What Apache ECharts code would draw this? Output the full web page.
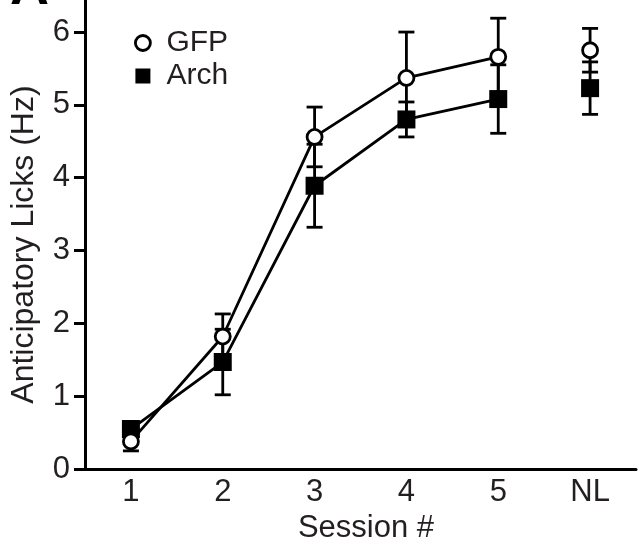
<!DOCTYPE html>
<html>
<head>
<meta charset="utf-8">
<script src="https://cdn.jsdelivr.net/npm/echarts@6/dist/echarts.min.js"></script>
<style>
  html, body { margin: 0; padding: 0; background: #fff; }
  #main { width: 639px; height: 549px; }
</style>
</head>
<body>
<div id="main"></div>
<script>
// session categories on the x axis
const sessions = ['1', '2', '3', '4', '5', 'NL'];
const yTicks = [0, 1, 2, 3, 4, 5, 6];

// mean anticipatory lick rate (Hz) and error (SEM)
const gfpMean = [0.38, 1.82, 4.56, 5.37, 5.66, 5.75];
const gfpErr = [0.13, 0.31, 0.41, 0.63, 0.53, 0.30];
const archMean = [0.55, 1.47, 3.89, 4.80, 5.08, 5.23];
const archErr = [0.10, 0.45, 0.57, 0.24, 0.47, 0.36];

const FONT = 'Liberation Sans, Arial, Helvetica, sans-serif';
const TEXT = '#231f20';

// sessions 1-5 are joined by a line, NL stands on its own
const lineData = (arr) => arr.slice(0, 5).map((v, i) => [sessions[i], v]);
const nlData = (arr) => [[sessions[5], arr[5]]];
const errData = (mean, err) => mean.map((v, i) => [i, v, err[i]]);

const renderErr = (params, api) => {
  const x = api.value(0);
  const y = api.value(1);
  const e = api.value(2);
  const top = api.coord([x, y + e]);
  const bot = api.coord([x, y - e]);
  const cap = 8;
  const style = { stroke: '#000', lineWidth: 2.8 };
  return {
    type: 'group',
    children: [
      { type: 'line', shape: { x1: top[0], y1: top[1], x2: bot[0], y2: bot[1] }, style },
      { type: 'line', shape: { x1: top[0] - cap, y1: top[1], x2: top[0] + cap, y2: top[1] }, style },
      { type: 'line', shape: { x1: bot[0] - cap, y1: bot[1], x2: bot[0] + cap, y2: bot[1] }, style },
    ],
  };
};

const gfpMarker = {
  symbol: 'circle',
  symbolSize: 15,
  itemStyle: { color: '#fff', borderColor: '#000', borderWidth: 2.8, opacity: 1 },
};
const archMarker = {
  symbol: 'rect',
  symbolSize: 18,
  itemStyle: { color: '#000', borderWidth: 0, opacity: 1 },
};

const options = {
  animation: false,
  backgroundColor: '#fff',
  textStyle: { fontFamily: FONT, color: TEXT },
  grid: { left: 85, right: 3, top: 0, bottom: 78, containLabel: false },
  legend: {
    orient: 'vertical',
    left: 134,
    top: 28,
    padding: 0,
    itemWidth: 15,
    itemHeight: 15,
    itemGap: 3,
    textStyle: { fontFamily: FONT, fontSize: 30, color: TEXT, padding: [0, 0, 0, 11] },
    data: [
      { name: 'GFP', icon: 'circle', itemStyle: { color: '#fff', borderColor: '#000', borderWidth: 2.8 } },
      { name: 'Arch', icon: 'rect', itemStyle: { color: '#000', borderWidth: 0 } },
    ],
  },
  xAxis: {
    type: 'category',
    data: sessions,
    boundaryGap: true,
    name: 'Session #',
    nameLocation: 'middle',
    nameGap: 35,
    nameTextStyle: { fontFamily: FONT, fontSize: 31, color: TEXT, padding: [0, 0, 0, 11] },
    axisLine: { lineStyle: { color: '#000', width: 3 } },
    axisTick: { alignWithLabel: true, length: 10, lineStyle: { color: '#000', width: 3 } },
    axisLabel: { fontFamily: FONT, fontSize: 31, color: TEXT, margin: 8 },
    splitLine: { show: false },
  },
  yAxis: {
    type: 'value',
    min: 0,
    max: 6.44,
    interval: 1,
    name: 'Anticipatory Licks (Hz)',
    nameLocation: 'middle',
    nameGap: 45,
    nameTextStyle: { fontFamily: FONT, fontSize: 32, color: TEXT, padding: [0, 20, 0, 0] },
    axisLine: { show: true, lineStyle: { color: '#000', width: 3 } },
    axisTick: { show: true, length: 11, customValues: yTicks, lineStyle: { color: '#000', width: 3 } },
    axisLabel: { fontFamily: FONT, fontSize: 31, color: TEXT, margin: 15, customValues: yTicks },
    splitLine: { show: false },
  },
  series: [
    {
      name: 'Arch err',
      type: 'custom',
      renderItem: renderErr,
      data: errData(archMean, archErr),
      encode: { x: 0, y: 1 },
      z: 1,
      silent: true,
    },
    {
      name: 'GFP err',
      type: 'custom',
      renderItem: renderErr,
      data: errData(gfpMean, gfpErr),
      encode: { x: 0, y: 1 },
      z: 1,
      silent: true,
    },
    {
      name: 'Arch',
      type: 'line',
      data: lineData(archMean),
      lineStyle: { color: '#000', width: 2.8 },
      ...archMarker,
      z: 3,
    },
    {
      name: 'Arch',
      type: 'scatter',
      data: nlData(archMean),
      ...archMarker,
      z: 3,
    },
    {
      name: 'GFP',
      type: 'line',
      data: lineData(gfpMean),
      lineStyle: { color: '#000', width: 2.8 },
      ...gfpMarker,
      showAllSymbol: true,
      z: 4,
    },
    {
      name: 'GFP',
      type: 'scatter',
      data: nlData(gfpMean),
      ...gfpMarker,
      z: 4,
    },
  ],
  graphic: [
    {
      // panel letter, cut off at the top edge
      type: 'text',
      left: 10,
      top: -38,
      style: { text: 'A', font: 'bold 54px ' + FONT, fill: '#000' },
    },
  ],
};

const myChart = echarts.init(document.getElementById('main'), null, { renderer: 'canvas' });
myChart.setOption(options);
</script>
</body>
</html>
